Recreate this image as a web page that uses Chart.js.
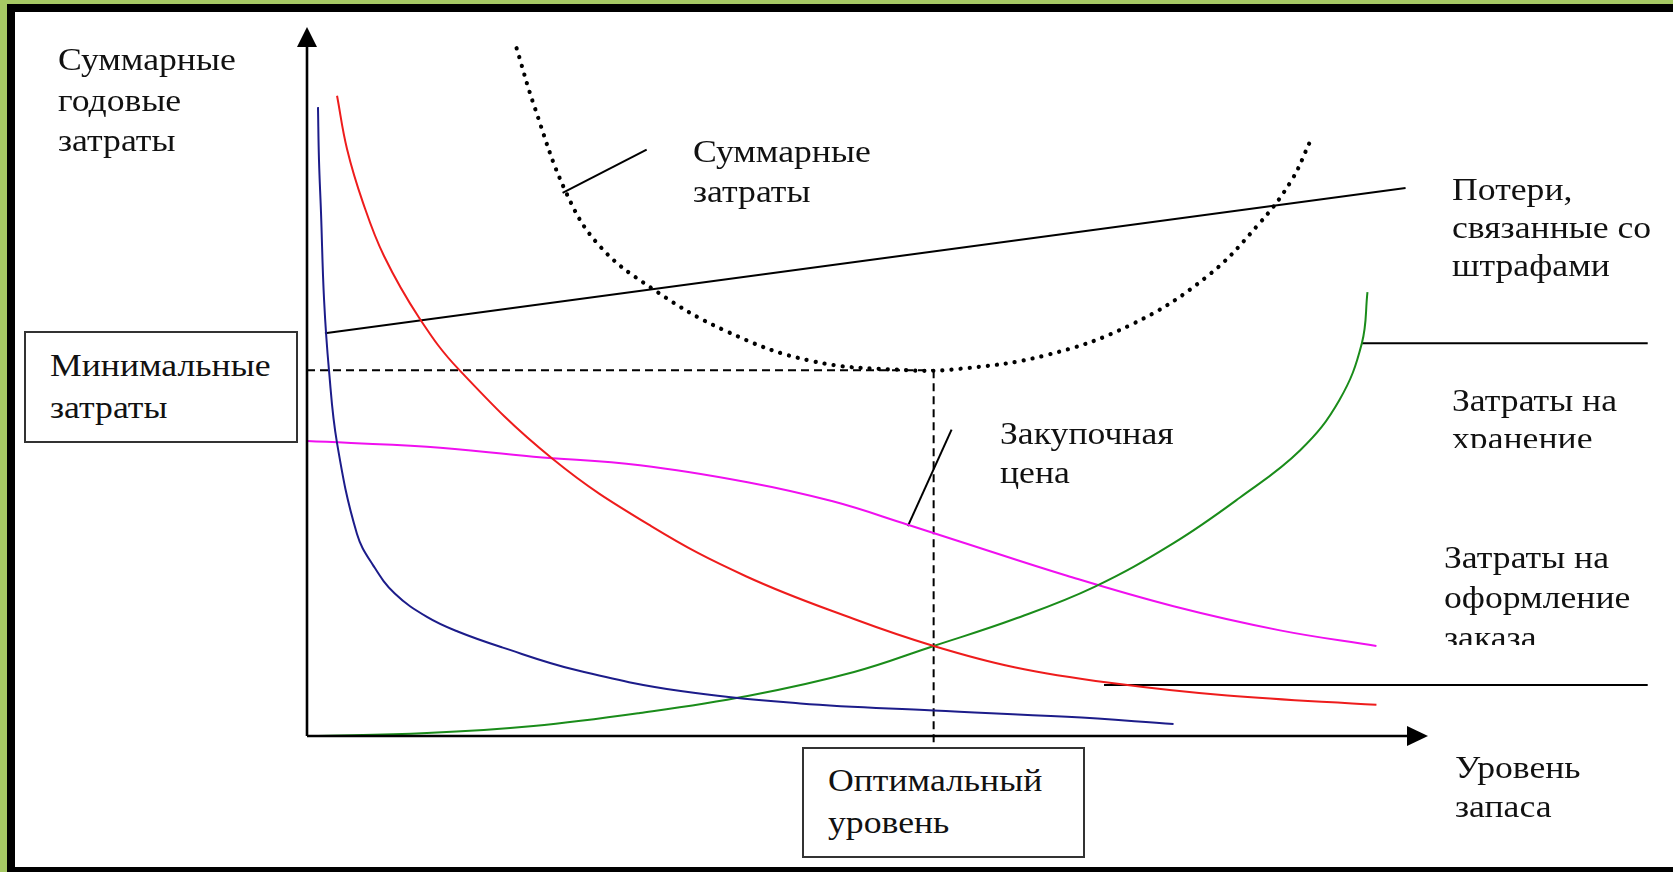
<!DOCTYPE html>
<html>
<head>
<meta charset="utf-8">
<script src="https://cdn.jsdelivr.net/npm/chart.js@4.4.1/dist/chart.umd.min.js"></script>
<style>
  body { margin: 0; width: 1673px; height: 872px; overflow: hidden; position: relative;
         background: #a6c964; font-family: "Liberation Serif", "Times New Roman", serif; }
  #frame { position: absolute; left: 7px; top: 4px; right: 0; bottom: 0; background: #000; }
  #paper { position: absolute; left: 15px; top: 12px; right: 0; bottom: 5px; background: #fff; }
  #chart { position: absolute; left: 0; top: 0; z-index: 1; }
  .box { position: absolute; box-sizing: border-box; border: 2px solid #333; background: #fff; z-index: 2; }
  .lbl { position: absolute; z-index: 3; font-size: 32px; line-height: 40px; color: #111;
         white-space: nowrap; overflow: hidden; transform: scaleX(1.115); transform-origin: 0 0; }
</style>
</head>
<body>
<div id="frame"></div>
<div id="paper"></div>
<canvas id="chart" width="1673" height="872"></canvas>

<div class="box" style="left:24px;top:331px;width:274px;height:112px"></div>
<div class="box" style="left:802px;top:747px;width:283px;height:111px"></div>

<div class="lbl" style="left:58px;top:39px;line-height:40.5px">Суммарные<br>годовые<br>затраты</div>
<div class="lbl" style="left:50px;top:344px;line-height:42px">Минимальные<br>затраты</div>
<div class="lbl" style="left:693px;top:131px;line-height:40px">Суммарные<br>затраты</div>
<div class="lbl" style="left:1000px;top:414px;line-height:39px">Закупочная<br>цена</div>
<div class="lbl" style="left:1452px;top:170px;line-height:38px">Потери,<br>связанные со<br>штрафами</div>
<div class="lbl" style="left:1452px;top:381px;line-height:38px;height:67px">Затраты на<br>хранение</div>
<div class="lbl" style="left:1444px;top:537px;line-height:40px;height:108px">Затраты на<br>оформление<br>заказа</div>
<div class="lbl" style="left:1455px;top:748px;line-height:39px">Уровень<br>запаса</div>
<div class="lbl" style="left:828px;top:759px;line-height:42px">Оптимальный<br>уровень</div>

<script>
// stock level runs 0..100 along x, annual cost 0..100 along y
var navyX = [0.98, 1.07, 1.25, 1.52, 1.96, 2.68, 4.46, 5.93, 7.83, 10.7, 13.5, 17.4, 24.0, 33.5, 44.0, 55.9, 67.8, 77.3];
var navyY = [88.7, 81.2, 73.8, 61.6, 51.6, 41.3, 28.5, 24.0, 20.1, 16.8, 14.7, 12.5, 9.3, 6.3, 4.6, 3.6, 2.7, 1.7];

var orderingX = [2.68, 3.57, 5.0, 6.87, 10.0, 13.6, 21.9, 30.7, 39.2, 48.8, 55.9, 63.1, 71.6, 82.1, 95.4];
var orderingY = [90.3, 82.8, 75.2, 67.7, 59.0, 51.6, 39.1, 29.6, 22.5, 16.5, 12.7, 9.7, 7.5, 5.7, 4.4];

var holdingX = [0.18, 10.7, 20.2, 29.7, 39.3, 48.8, 55.9, 63.1, 70.2, 77.3, 83.2, 88.6, 92.1, 94.1, 94.6];
var holdingY = [0, 0.42, 1.41, 3.24, 5.64, 9.03, 12.7, 16.5, 21.0, 27.2, 33.6, 40.3, 47.4, 55.4, 62.6];

var priceX = [0, 10.7, 20.2, 29.7, 39.3, 46.9, 53.6, 58.3, 67.8, 77.3, 86.8, 95.4];
var priceY = [41.6, 40.8, 39.4, 38.2, 35.8, 33.1, 29.8, 27.4, 22.6, 18.3, 14.9, 12.7];

var penaltyX = [1.6, 98.0];
var penaltyY = [56.8, 77.3];

var totalX = [18.7, 20.3, 23.1, 26.0, 30.7, 37.4, 45.0, 53.5, 58.3, 65.9, 73.5, 80.2, 84.9, 87.8, 89.5];
var totalY = [97.0, 88.7, 76.7, 69.3, 63.2, 57.1, 52.9, 51.6, 51.8, 53.7, 58.0, 64.7, 72.2, 78.3, 83.9];

var optimalLevel = 55.9;
var minimalCost = 51.6;

function pts(xs, ys) {
  return xs.map(function(x, i) { return { x: x, y: ys[i] }; });
}

function curve(xs, ys, color, width) {
  return {
    data: pts(xs, ys), borderColor: color, borderWidth: width,
    showLine: true, pointRadius: 0, tension: 0.4, capBezierPoints: false, clip: false
  };
}

function straight(xs, ys, dash) {
  return {
    data: pts(xs, ys), borderColor: '#000', borderWidth: 2,
    borderDash: dash || [], showLine: true, pointRadius: 0, clip: false
  };
}

var datasets = [
  curve(navyX, navyY, '#1c1c8a', 2),
  curve(orderingX, orderingY, '#ee1c1c', 2),
  curve(holdingX, holdingY, '#1a8c1a', 2),
  curve(priceX, priceY, '#f010f0', 2),
  straight(penaltyX, penaltyY),
  straight([0, optimalLevel], [minimalCost, minimalCost], [8, 5]),
  straight([optimalLevel, optimalLevel], [minimalCost, -1.55], [8, 5]),
  // leader lines to labels
  straight([22.8, 30.3], [76.6, 82.7]),
  straight([53.6, 57.5], [29.6, 43.2]),
  straight([94.1, 119.6], [55.4, 55.4]),
  straight([71.1, 119.6], [7.2, 7.2])
];

var total = curve(totalX, totalY, '#000', 4.2);
total.borderDash = [0.1, 9];
total.borderCapStyle = 'round';
datasets.push(total);

var axesPlugin = {
  id: 'arrowAxes',
  afterDatasetsDraw: function(chart) {
    var ctx = chart.ctx;
    var a = chart.chartArea;
    ctx.save();
    ctx.strokeStyle = '#000';
    ctx.fillStyle = '#000';
    ctx.lineWidth = 2.6;
    ctx.beginPath();
    ctx.moveTo(a.left, a.bottom);
    ctx.lineTo(a.left, a.top + 18);
    ctx.moveTo(a.left, a.bottom);
    ctx.lineTo(a.right - 18, a.bottom);
    ctx.stroke();
    ctx.beginPath();
    ctx.moveTo(a.left, a.top);
    ctx.lineTo(a.left - 10, a.top + 20);
    ctx.lineTo(a.left + 10, a.top + 20);
    ctx.closePath();
    ctx.fill();
    ctx.beginPath();
    ctx.moveTo(a.right, a.bottom);
    ctx.lineTo(a.right - 21, a.bottom - 10);
    ctx.lineTo(a.right - 21, a.bottom + 10);
    ctx.closePath();
    ctx.fill();
    ctx.restore();
  }
};

new Chart(document.getElementById('chart').getContext('2d'), {
  type: 'scatter',
  data: { datasets: datasets },
  options: {
    responsive: false,
    animation: false,
    layout: { padding: { left: 307, right: 245, top: 27, bottom: 136 } },
    scales: {
      x: { type: 'linear', min: 0, max: 100, display: false },
      y: { type: 'linear', min: 0, max: 100, display: false }
    },
    plugins: { legend: { display: false }, tooltip: { enabled: false } }
  },
  plugins: [axesPlugin]
});
</script>
</body>
</html>
